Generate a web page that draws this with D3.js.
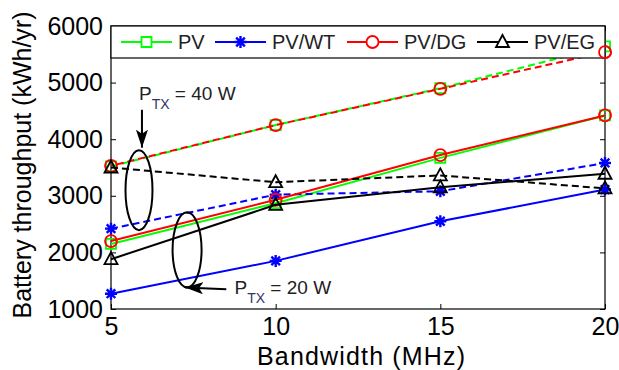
<!DOCTYPE html>
<html>
<head>
<meta charset="utf-8">
<script src="https://cdn.jsdelivr.net/npm/d3@7"></script>
<style>
  html, body { margin: 0; padding: 0; background: #fff; }
  svg { display: block; font-family: Arial, "Liberation Sans", sans-serif; }
</style>
</head>
<body>
<div id="chart-container"></div>
<script>
/**************************************************
 * Data
 **************************************************/

const bandwidth = [5, 10, 15, 20];
const yTicks = [1000, 2000, 3000, 4000, 5000, 6000];

// P_TX = 20 W (solid) and P_TX = 40 W (dashed)
const pv20 = [2150, 2870, 3670, 4420];
const pv40 = [3520, 4250, 4900, 5640];
const wt20 = [1270, 1850, 2550, 3110];
const wt40 = [2420, 3020, 3080, 3580];
const dg20 = [2200, 2930, 3720, 4420];
const dg40 = [3530, 4250, 4890, 5540];
const eg20 = [1880, 2840, 3150, 3390];
const eg40 = [3500, 3240, 3360, 3130];

const seriesNames = ["PV", "PV/WT", "PV/DG", "PV/EG"];
const seriesColors = ["#00ff00", "#0000ff", "#ff0000", "#000000"];
const seriesMarkers = ["square", "star", "circle", "triangle"];

/**************************************************
 * Rendering
 **************************************************/

const width = 619, height = 370;
const margin = { left: 111, right: 14, top: 26, bottom: 61 };

const svg = d3.select("#chart-container")
  .append("svg")
  .attr("width", width)
  .attr("height", height);

const x = d3.scaleLinear().domain([5, 20]).range([margin.left, width - margin.right]);
const y = d3.scaleLinear().domain([1000, 6000]).range([height - margin.bottom, margin.top]);

function markerPath(type) {
  if (type === "square") return "M-5,-5H5V5H-5Z";
  if (type === "circle") return "M-6,0A6,6 0 1,0 6,0A6,6 0 1,0 -6,0Z";
  if (type === "triangle") return "M0,-7L6.5,5H-6.5Z";
  // matlab asterisk
  return "M-6,0H6M0,-6V6M-4.3,-4.3L4.3,4.3M-4.3,4.3L4.3,-4.3";
}

const line = d3.line()
  .x((d, i) => x(bandwidth[i]))
  .y(d => y(d));

// axes box
const axisFont = 25;

svg.append("g")
  .attr("transform", `translate(${margin.left},0)`)
  .call(d3.axisLeft(y).tickValues(yTicks).tickSize(-5).tickPadding(8).tickFormat(d3.format("d")))
  .call(g => g.select(".domain").remove())
  .call(g => g.selectAll("text").attr("font-size", axisFont).attr("fill", "#000").attr("font-family", "Arial, 'Liberation Sans', sans-serif"));

svg.append("g")
  .attr("transform", `translate(${width - margin.right},0)`)
  .call(d3.axisRight(y).tickValues(yTicks).tickSize(-5).tickFormat(""))
  .call(g => g.select(".domain").remove());

svg.append("g")
  .attr("transform", `translate(0,${height - margin.bottom})`)
  .call(d3.axisBottom(x).tickValues(bandwidth).tickSize(-5).tickPadding(8))
  .call(g => g.select(".domain").remove())
  .call(g => g.selectAll("text").attr("font-size", axisFont).attr("fill", "#000").attr("font-family", "Arial, 'Liberation Sans', sans-serif"));

svg.append("g")
  .attr("transform", `translate(0,${margin.top})`)
  .call(d3.axisTop(x).tickValues(bandwidth).tickSize(-5).tickFormat(""))
  .call(g => g.select(".domain").remove());

svg.append("rect")
  .attr("x", margin.left)
  .attr("y", margin.top)
  .attr("width", width - margin.left - margin.right)
  .attr("height", height - margin.top - margin.bottom)
  .attr("fill", "none")
  .attr("stroke", "#000")
  .attr("stroke-width", 1.2);

// series
const groups = [
  [pv20, pv40],
  [wt20, wt40],
  [dg20, dg40],
  [eg20, eg40]
];

groups.forEach((pair, k) => {
  pair.forEach((vals, j) => {
    svg.append("path")
      .datum(vals)
      .attr("d", line)
      .attr("fill", "none")
      .attr("stroke", seriesColors[k])
      .attr("stroke-width", 2)
      .attr("stroke-dasharray", j === 1 ? "7,4" : null)
      .attr("stroke-dashoffset", j === 1 && k === 2 ? 5 : 0);

    vals.forEach((v, i) => {
      svg.append("path")
        .attr("transform", `translate(${x(bandwidth[i])},${y(v)})`)
        .attr("d", markerPath(seriesMarkers[k]))
        .attr("fill", "none")
        .attr("stroke", seriesColors[k])
        .attr("stroke-width", seriesMarkers[k] === "star" ? 2.4 : 1.8);
    });
  });
});

// legend
const legendTop = margin.top, legendH = 32;
svg.append("rect")
  .attr("x", margin.left)
  .attr("y", legendTop)
  .attr("width", width - margin.left - margin.right)
  .attr("height", legendH)
  .attr("fill", "#fff")
  .attr("stroke", "#000")
  .attr("stroke-width", 1.2);

const legendX = [121, 215, 347, 477];
seriesNames.forEach((name, k) => {
  const ly = legendTop + 16;
  svg.append("line")
    .attr("x1", legendX[k]).attr("x2", legendX[k] + 51)
    .attr("y1", ly).attr("y2", ly)
    .attr("stroke", seriesColors[k])
    .attr("stroke-width", 2);
  svg.append("path")
    .attr("transform", `translate(${legendX[k] + 25.5},${ly})`)
    .attr("d", markerPath(seriesMarkers[k]))
    .attr("fill", "#fff")
    .attr("stroke", seriesColors[k])
    .attr("stroke-width", seriesMarkers[k] === "star" ? 2.4 : 1.8);
  svg.append("text")
    .attr("x", legendX[k] + 57)
    .attr("y", ly + 7)
    .attr("font-size", 20)
    .attr("fill", "#222")
    .text(name);
});

// red dashed end point sits over the legend border
svg.append("path")
  .attr("transform", `translate(${x(bandwidth[3])},${y(dg40[3])})`)
  .attr("d", markerPath("circle"))
  .attr("fill", "none")
  .attr("stroke", "#ff0000")
  .attr("stroke-width", 1.8);

// axis labels
svg.append("text")
  .attr("x", (margin.left + width - margin.right) / 2 + 3)
  .attr("y", 365)
  .attr("text-anchor", "middle")
  .attr("font-size", axisFont)
  .attr("textLength", 208)
  .text("Bandwidth (MHz)");

svg.append("text")
  .attr("transform", "translate(31,165) rotate(-90)")
  .attr("text-anchor", "middle")
  .attr("font-size", axisFont)
  .text("Battery throughput (kWh/yr)");

// annotations: ellipses, arrows, P_TX labels
const defs = svg.append("defs");
defs.append("marker")
  .attr("id", "arrowhead")
  .attr("viewBox", "0 0 18 12")
  .attr("refX", 18).attr("refY", 6)
  .attr("markerWidth", 18).attr("markerHeight", 12)
  .attr("markerUnits", "userSpaceOnUse")
  .attr("orient", "auto")
  .append("path")
  .attr("d", "M0,0L18,6L0,12L4,6Z")
  .attr("fill", "#000");

function ellipse(bw, val, rx, ry) {
  svg.append("ellipse")
    .attr("cx", x(bw)).attr("cy", y(val))
    .attr("rx", rx).attr("ry", ry)
    .attr("fill", "none")
    .attr("stroke", "#000")
    .attr("stroke-width", 2);
}
ellipse(5.85, 3100, 13.5, 40);
ellipse(7.31, 2045, 14.5, 37.5);

function arrow(bw1, v1, bw2, v2) {
  svg.append("line")
    .attr("x1", x(bw1)).attr("y1", y(v1))
    .attr("x2", x(bw2)).attr("y2", y(v2))
    .attr("stroke", "#000")
    .attr("stroke-width", 2)
    .attr("marker-end", "url(#arrowhead)");
}
arrow(5.94, 4520, 5.94, 3850);
arrow(8.5, 1350, 7.25, 1380);

function ptxLabel(bw, val, txt) {
  const t = svg.append("text")
    .attr("x", x(bw)).attr("y", y(val))
    .attr("font-size", 19)
    .attr("fill", "#222");
  t.append("tspan").text("P");
  t.append("tspan").attr("font-size", 14).attr("dy", 9).attr("fill", "#333366").text("TX");
  t.append("tspan").attr("dy", -9).text(" = " + txt);
}
ptxLabel(5.85, 4690, "40 W");
ptxLabel(8.75, 1260, "20 W");
</script>
</body>
</html>
